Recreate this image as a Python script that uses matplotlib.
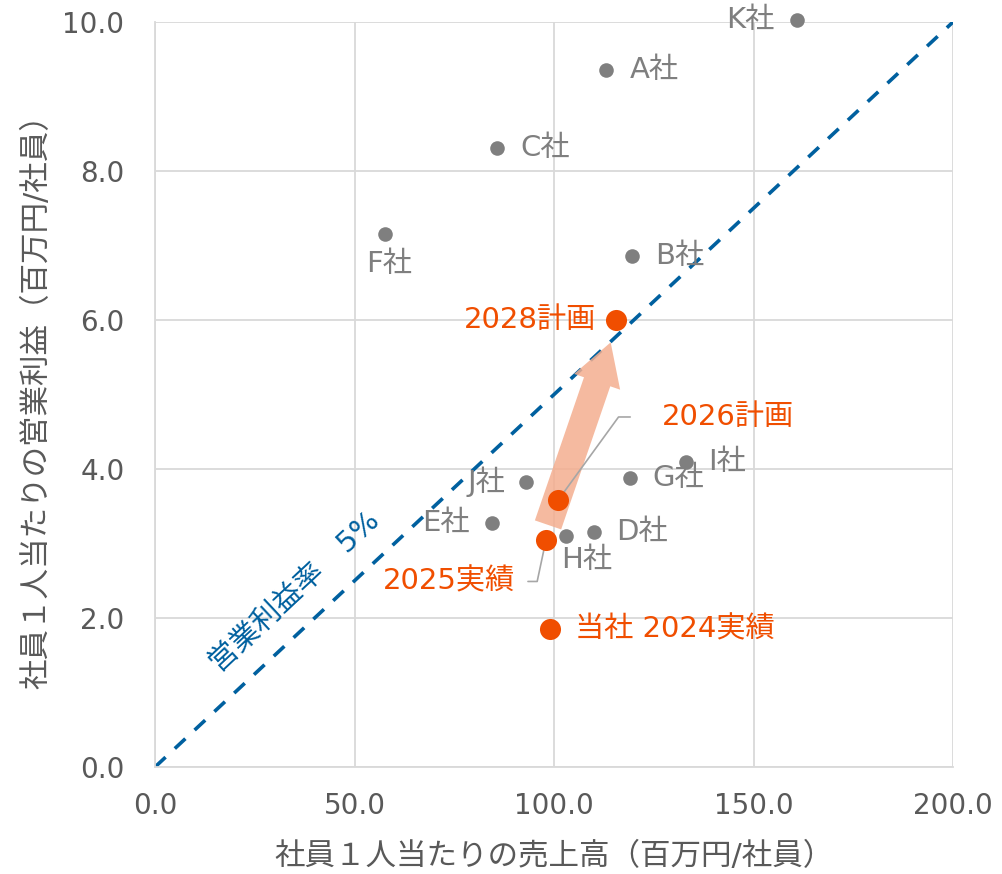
import matplotlib.pyplot as plt

plt.rcParams['font.family'] = ['DejaVu Sans', 'Noto Sans CJK JP']

# 他社
peers = ['K社', 'A社', 'C社', 'F社', 'B社', 'I社', 'G社', 'J社', 'E社', 'D社', 'H社']
peer_sales = [160.9, 113.0, 85.7, 57.6, 119.5, 133.1, 119.0, 93.0, 84.5, 110.0, 103.0]
peer_profit = [10.03, 9.36, 8.31, 7.15, 6.86, 4.09, 3.88, 3.83, 3.28, 3.15, 3.10]

# 当社
own = ['当社 2024実績', '2025実績', '2026計画', '2028計画']
own_sales = [99.0, 98.0, 101.0, 115.5]
own_profit = [1.85, 3.05, 3.58, 6.0]

margin = 0.05
x_ticks = [0, 50, 100, 150, 200]
y_ticks = [0, 2, 4, 6, 8, 10]

gray = '#7F7F7F'
orange = '#F04E00'
blue = '#00609F'
txt = '#595959'
grid = '#D9D9D9'
fs = 21

fig = plt.figure(figsize=(10.02, 8.74), dpi=100)
ax = fig.add_axes([0.1547, 0.1224, 0.7964, 0.8524])

ax.set_xlim(0, 200)
ax.set_ylim(0, 10)
ax.set_xticks(x_ticks)
ax.set_yticks(y_ticks)
ax.set_xticklabels([f'{v:.1f}' for v in x_ticks])
ax.set_yticklabels([f'{v:.1f}' for v in y_ticks])
ax.tick_params(length=0, labelsize=20, labelcolor=txt)
ax.tick_params(axis='y', pad=22)
ax.tick_params(axis='x', pad=18)
ax.grid(True, color=grid, lw=1.3)
ax.set_axisbelow(True)
for s in ['top', 'right']:
    ax.spines[s].set_visible(False)
for s in ['left', 'bottom']:
    ax.spines[s].set_color(grid)
    ax.spines[s].set_linewidth(1.3)

ax.set_xlabel('社員１人当たりの売上高（百万円/社員）', fontsize=22, color=txt, labelpad=16)
ax.set_ylabel('社員１人当たりの営業利益（百万円/社員）', fontsize=22, color=txt, labelpad=8)

# 営業利益率5%ライン
ax.plot([0, 200], [0, 200 * margin], color=blue, lw=2.6, ls=(0, (4, 3.5)), zorder=2)
ax.text(35, 2.35, '営業利益率　5%', color=blue, fontsize=21, rotation=43,
        ha='center', va='center', rotation_mode='anchor')

# 矢印
ax.annotate('', xy=(114.2, 5.7), xytext=(98.5, 3.25),
            arrowprops=dict(arrowstyle='simple,head_width=3.5,head_length=3.0,tail_width=2.0',
                            mutation_scale=10, fc='#F4AE8F', ec='none', alpha=0.85,
                            shrinkA=0, shrinkB=0),
            zorder=3)

ax.scatter(peer_sales, peer_profit, s=110, color=gray, zorder=4, linewidths=0, clip_on=False)
ax.scatter(own_sales, own_profit, s=230, color=orange, zorder=5, linewidths=0, clip_on=False)

peer_offsets = [(-16, 0, 'right', 'center'), (17, 0, 'left', 'center'), (17, 0, 'left', 'center'),
                (3, -21, 'center', 'center'), (17, 0, 'left', 'center'), (16, 0, 'left', 'center'),
                (16, 0, 'left', 'center'), (-15, 0, 'right', 'center'), (-16, 0, 'right', 'center'),
                (16, 0, 'left', 'center'), (15, -17, 'center', 'center')]
for name, x, y, (dx, dy, ha, va) in zip(peers, peer_sales, peer_profit, peer_offsets):
    ax.annotate(name, (x, y), xytext=(dx, dy), textcoords='offset points',
                ha=ha, va=va, fontsize=fs, color=gray, zorder=6, annotation_clip=False)

# 当社ラベル
ax.annotate(own[0], (own_sales[0], own_profit[0]), xytext=(18, 0), textcoords='offset points',
            ha='left', va='center', fontsize=fs, color=orange)
ax.annotate(own[3], (own_sales[3], own_profit[3]), xytext=(-14, 0), textcoords='offset points',
            ha='right', va='center', fontsize=fs, color=orange)
ax.annotate(own[2], (own_sales[2], own_profit[2]), xytext=(75, 60), textcoords='offset points',
            ha='left', va='center', fontsize=fs, color=orange,
            arrowprops=dict(arrowstyle='-', color='#A6A6A6', lw=1.2, relpos=(0, 0.5),
                            shrinkA=21, shrinkB=0,
                            connectionstyle='angle,angleA=0,angleB=54,rad=0'))
ax.annotate(own[1], (own_sales[1], own_profit[1]), xytext=(-22, -30), textcoords='offset points',
            ha='right', va='center', fontsize=fs, color=orange,
            arrowprops=dict(arrowstyle='-', color='#A6A6A6', lw=1.2, relpos=(1, 0.5),
                            shrinkA=7, shrinkB=0,
                            connectionstyle='angle,angleA=0,angleB=78,rad=0'))

fig.savefig('out.png', dpi=100)
